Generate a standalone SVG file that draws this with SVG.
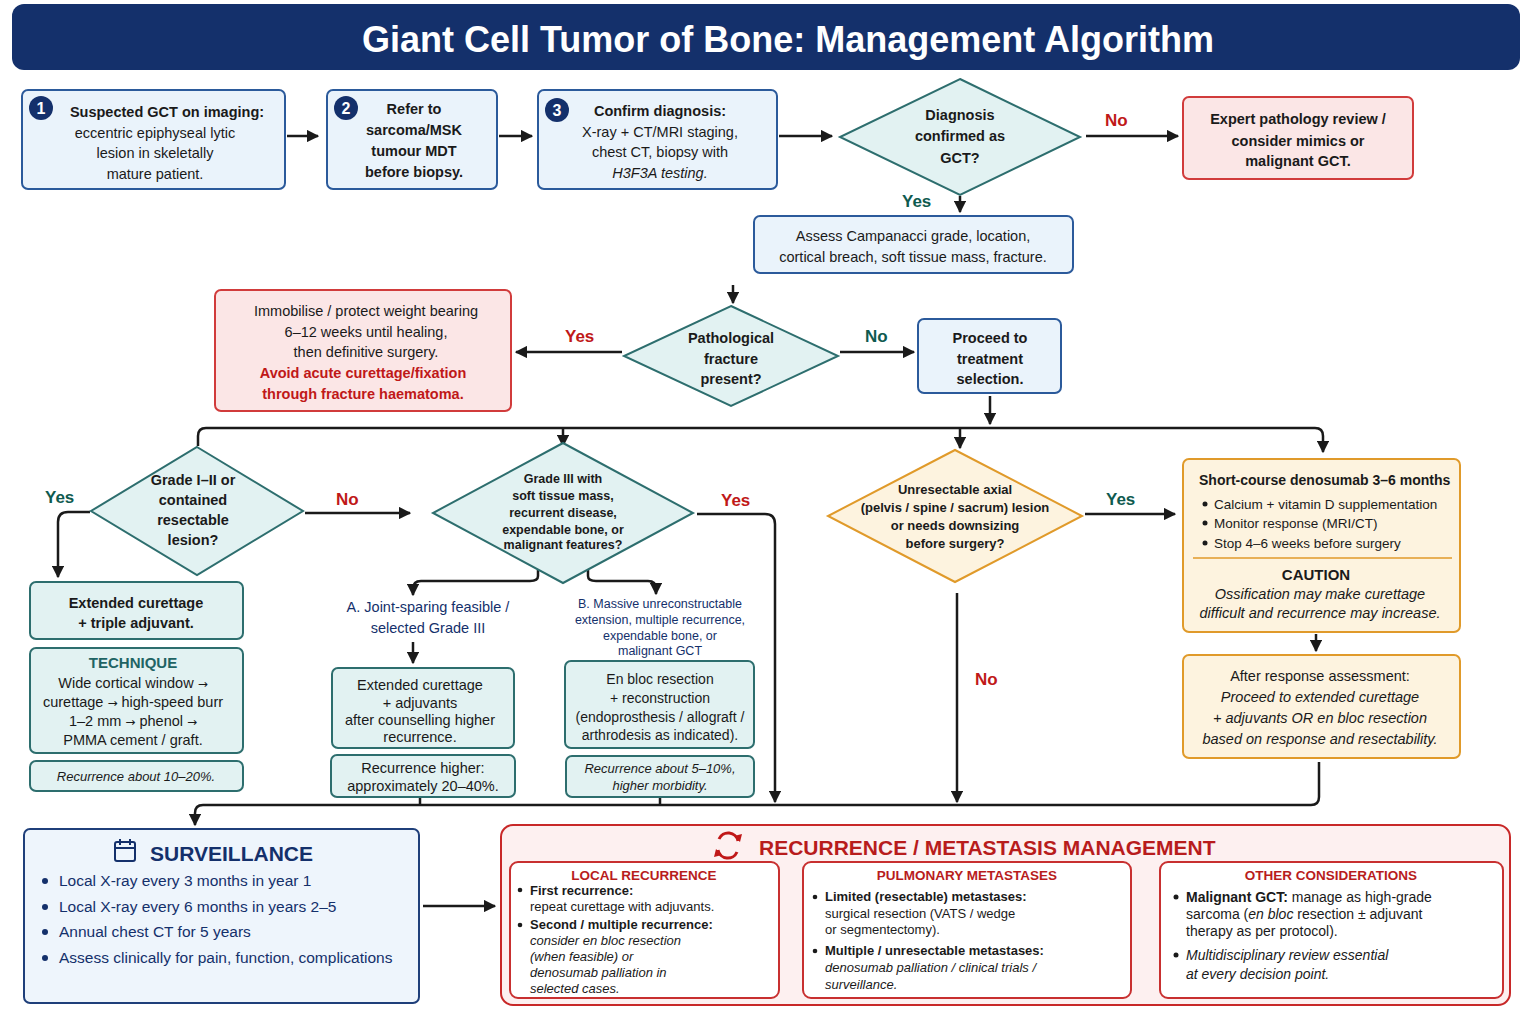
<svg xmlns="http://www.w3.org/2000/svg" width="1536" height="1024" viewBox="0 0 1536 1024">
<defs>
<marker id="ah" viewBox="0 0 10 10" refX="9" refY="5" markerWidth="5" markerHeight="5" orient="auto"><path d="M0,0 L10,5 L0,10 z" fill="#1a1a1a"/></marker>
<style>
text{font-family:"Liberation Sans",Arial,sans-serif;fill:#1a1a1a}
.ar{font-family:"DejaVu Sans",sans-serif;font-size:12px}
.c{text-anchor:middle}
.b{font-weight:bold}
.i{font-style:italic}
.t14{font-size:14.5px}
.t13{font-size:13px}
.blue{fill:#eaf3fb;stroke:#2b5a9b;stroke-width:2}
.red{fill:#fbe6e6;stroke:#d13b3b;stroke-width:2}
.teal{fill:#e2f2f2;stroke:#2d6e6e;stroke-width:2}
.org{fill:#fdf3df;stroke:#e09a2a;stroke-width:2}
.rw{fill:#fff;stroke:#c83030;stroke-width:2}
.ln{fill:none;stroke:#1a1a1a;stroke-width:2.5}
.ly{fill:#0f5a4f;font-weight:bold;font-size:17px}
.lr{fill:#c01818;font-weight:bold;font-size:17px}
.num{fill:#14306b}
.nav{fill:#14306b}
.rh{fill:#b81c1c;font-weight:bold;font-size:13.5px;text-anchor:middle}
</style>
</defs>
<rect x="0" y="0" width="1536" height="1024" fill="#fff"/>
<g id="title"><rect x="12" y="4" width="1508" height="66" rx="12" fill="#14306b"/><text x="788" y="52" class="c b" style="fill:#fff;font-size:36px">Giant Cell Tumor of Bone: Management Algorithm</text></g>

<g id="connectors">
<path class="ln" d="M287,136 H318" marker-end="url(#ah)"/>
<path class="ln" d="M499,136 H532" marker-end="url(#ah)"/>
<path class="ln" d="M779,136 H832" marker-end="url(#ah)"/>
<path class="ln" d="M1086,136 H1178" marker-end="url(#ah)"/>
<path class="ln" d="M960,196 V212" marker-end="url(#ah)"/>
<path class="ln" d="M733,285 V303" marker-end="url(#ah)"/>
<path class="ln" d="M622,352 H516" marker-end="url(#ah)"/>
<path class="ln" d="M840,352 H914" marker-end="url(#ah)"/>
<path class="ln" d="M990,396 V424" marker-end="url(#ah)"/>
<path class="ln" d="M198,446 V436 Q198,428 206,428 H1315 Q1323,428 1323,436 V452" marker-end="url(#ah)"/>
<path class="ln" d="M563,428 V446" marker-end="url(#ah)"/>
<path class="ln" d="M960,428 V448" marker-end="url(#ah)"/>
<path class="ln" d="M90,512 H68 Q58,512 58,522 V577" marker-end="url(#ah)"/>
<path class="ln" d="M305,513 H410" marker-end="url(#ah)"/>
<path class="ln" d="M697,514 H765 Q775,514 775,524 V802" marker-end="url(#ah)"/>
<path class="ln" d="M538,570 V576 Q538,581 530,581 H421 Q413,581 413,589 V595" marker-end="url(#ah)"/>
<path class="ln" d="M588,570 V576 Q588,581 596,581 H648 Q656,581 656,589 V594" marker-end="url(#ah)"/>
<path class="ln" d="M413,642 V663" marker-end="url(#ah)"/>
<path class="ln" d="M1085,514 H1175" marker-end="url(#ah)"/>
<path class="ln" d="M957,593 V802" marker-end="url(#ah)"/>
<path class="ln" d="M1316,634 V651" marker-end="url(#ah)"/>
<path class="ln" d="M1319,762 V797 Q1319,805 1311,805 H203 Q195,805 195,813 V825" marker-end="url(#ah)"/>
<path class="ln" d="M420,797 V805 M660,797 V805"/>
<path class="ln" d="M423,906 H495" marker-end="url(#ah)"/>
</g>

<g id="n1"><rect class="blue" x="22" y="90" width="263" height="99" rx="6"/><circle class="num" cx="41" cy="108" r="12"/><text x="41" y="114" class="c b" style="fill:#fff;font-size:16px">1</text>
<text class="c t14" x="167" y="117"><tspan class="b">Suspected GCT on imaging:</tspan><tspan x="155" y="138">eccentric epiphyseal lytic</tspan><tspan x="155" y="158">lesion in skeletally</tspan><tspan x="155" y="179">mature patient.</tspan></text></g>
<g id="n2"><rect class="blue" x="327" y="90" width="170" height="99" rx="6"/><circle class="num" cx="346" cy="108" r="12"/><text x="346" y="114" class="c b" style="fill:#fff;font-size:16px">2</text>
<text class="c b t14" x="414" y="114">Refer to<tspan x="414" y="135">sarcoma/MSK</tspan><tspan x="414" y="156">tumour MDT</tspan><tspan x="414" y="177">before biopsy.</tspan></text></g>
<g id="n3"><rect class="blue" x="538" y="90" width="239" height="99" rx="6"/><circle class="num" cx="557" cy="110" r="12"/><text x="557" y="116" class="c b" style="fill:#fff;font-size:16px">3</text>
<text class="c t14" x="660" y="116"><tspan class="b">Confirm diagnosis:</tspan><tspan x="660" y="137">X-ray + CT/MRI staging,</tspan><tspan x="660" y="157">chest CT, biopsy with</tspan><tspan x="660" y="178" class="i">H3F3A testing.</tspan></text></g>
<g id="d1"><polygon class="teal" points="960,79 1080,137 960,195 840,137"/><text class="c b t14" x="960" y="120">Diagnosis<tspan x="960" y="141">confirmed as</tspan><tspan x="960" y="163">GCT?</tspan></text>
<text class="lr" x="1105" y="126">No</text><text class="ly" x="902" y="207">Yes</text></g>
<g id="n4"><rect class="red" x="1183" y="97" width="230" height="82" rx="6"/><text class="c b t14" x="1298" y="124">Expert pathology review /<tspan x="1298" y="146">consider mimics or</tspan><tspan x="1298" y="166">malignant GCT.</tspan></text></g>
<g id="n5"><rect class="blue" x="754" y="216" width="319" height="57" rx="6"/><text class="c t14" x="913" y="241">Assess Campanacci grade, location,<tspan x="913" y="262">cortical breach, soft tissue mass, fracture.</tspan></text></g>
<g id="d2"><polygon class="teal" points="731,306 838,356 731,406 624,356"/><text class="c b t14" x="731" y="343">Pathological<tspan x="731" y="364">fracture</tspan><tspan x="731" y="384">present?</tspan></text>
<text class="lr" x="565" y="342">Yes</text><text class="ly" x="865" y="342">No</text></g>
<g id="n6"><rect class="red" x="215" y="290" width="296" height="121" rx="6"/><text class="c t14" x="366" y="316">Immobilise / protect weight bearing<tspan x="366" y="337">6–12 weeks until healing,</tspan><tspan x="366" y="357">then definitive surgery.</tspan><tspan x="363" y="378" class="b" style="fill:#c01818">Avoid acute curettage/fixation</tspan><tspan x="363" y="399" class="b" style="fill:#c01818">through fracture haematoma.</tspan></text></g>
<g id="n7"><rect class="blue" x="918" y="319" width="143" height="74" rx="6"/><text class="c b t14" x="990" y="343">Proceed to<tspan x="990" y="364">treatment</tspan><tspan x="990" y="384">selection.</tspan></text></g>

<g id="d3"><polygon class="teal" points="197,447 303,511 197,575 91,511"/><text class="c b t14" x="193" y="485">Grade I–II or<tspan x="193" y="505">contained</tspan><tspan x="193" y="525">resectable</tspan><tspan x="193" y="545">lesion?</tspan></text>
<text class="ly" x="45" y="503">Yes</text><text class="lr" x="336" y="505">No</text></g>
<g id="d4"><polygon class="teal" points="563,443 693,513 563,583 433,513"/><text class="c b" style="font-size:12.5px" x="563" y="483">Grade III with<tspan x="563" y="500">soft tissue mass,</tspan><tspan x="563" y="517">recurrent disease,</tspan><tspan x="563" y="534">expendable bone, or</tspan><tspan x="563" y="549">malignant features?</tspan></text>
<text class="lr" x="721" y="506">Yes</text></g>
<g id="n8"><rect class="teal" x="30" y="582" width="213" height="57" rx="6"/><text class="c b t14" x="136" y="608">Extended curettage<tspan x="136" y="628">+ triple adjuvant.</tspan></text></g>
<g id="n9"><rect class="teal" x="30" y="648" width="213" height="105" rx="6"/><text class="c b" style="fill:#1f6464;font-size:15px" x="133" y="668">TECHNIQUE</text><text class="c t14" x="133" y="688">Wide cortical window <tspan class="ar">→</tspan><tspan x="133" y="707">curettage <tspan class="ar">→</tspan> high-speed burr</tspan><tspan x="133" y="726">1–2 mm <tspan class="ar">→</tspan> phenol <tspan class="ar">→</tspan></tspan><tspan x="133" y="745">PMMA cement / graft.</tspan></text></g>
<g id="n10"><rect class="teal" x="30" y="761" width="213" height="30" rx="6"/><text class="c i t13" x="136" y="781">Recurrence about 10–20%.</text></g>
<g id="la"><text class="c nav t14" x="428" y="612">A. Joint-sparing feasible /<tspan x="428" y="633">selected Grade III</tspan></text></g>
<g id="n11"><rect class="teal" x="332" y="668" width="182" height="80" rx="6"/><text class="c t14" x="420" y="690">Extended curettage<tspan x="420" y="708">+ adjuvants</tspan><tspan x="420" y="725">after counselling higher</tspan><tspan x="420" y="742">recurrence.</tspan></text></g>
<g id="n12"><rect class="teal" x="331" y="755" width="184" height="42" rx="6"/><text class="c t14" x="423" y="773">Recurrence higher:<tspan x="423" y="791">approximately 20–40%.</tspan></text></g>
<g id="lb"><text class="c nav" style="font-size:12.5px" x="660" y="608">B. Massive unreconstructable<tspan x="660" y="624">extension, multiple recurrence,</tspan><tspan x="660" y="640">expendable bone, or</tspan><tspan x="660" y="655">malignant GCT</tspan></text></g>
<g id="n13"><rect class="teal" x="565" y="661" width="189" height="87" rx="6"/><text class="c" style="font-size:14px" x="660" y="684">En bloc resection<tspan x="660" y="703">+ reconstruction</tspan><tspan x="660" y="722">(endoprosthesis / allograft /</tspan><tspan x="660" y="740">arthrodesis as indicated).</tspan></text></g>
<g id="n14"><rect class="teal" x="566" y="756" width="188" height="41" rx="6"/><text class="c i t13" x="660" y="773">Recurrence about 5–10%,<tspan x="660" y="790">higher morbidity.</tspan></text></g>

<g id="d5"><polygon class="org" points="955,450 1082,516 955,582 828,516"/><text class="c t13" x="955" y="494" style="font-weight:600">Unresectable axial<tspan x="955" y="512">(pelvis / spine / sacrum) lesion</tspan><tspan x="955" y="530">or needs downsizing</tspan><tspan x="955" y="548">before surgery?</tspan></text>
<text class="ly" x="1106" y="505">Yes</text><text class="lr" x="975" y="685">No</text></g>
<g id="n15"><rect class="org" x="1183" y="459" width="277" height="173" rx="6"/><text class="b" style="font-size:14px" x="1199" y="485">Short-course denosumab 3–6 months</text>
<g style="font-size:13.5px"><circle cx="1205" cy="504" r="2.5" fill="#1a1a1a"/><text x="1214" y="509">Calcium + vitamin D supplementation</text><circle cx="1205" cy="523" r="2.5" fill="#1a1a1a"/><text x="1214" y="528">Monitor response (MRI/CT)</text><circle cx="1205" cy="543" r="2.5" fill="#1a1a1a"/><text x="1214" y="548">Stop 4–6 weeks before surgery</text></g>
<line x1="1193" y1="558" x2="1452" y2="558" stroke="#e09a2a" stroke-width="1.5"/>
<text class="c b" style="font-size:15px" x="1316" y="580">CAUTION</text><text class="c i t14" x="1320" y="599">Ossification may make curettage<tspan x="1320" y="618">difficult and recurrence may increase.</tspan></text></g>
<g id="n16"><rect class="org" x="1183" y="655" width="277" height="103" rx="6"/><text class="c t14" x="1320" y="681">After response assessment:<tspan x="1320" y="702" class="i">Proceed to extended curettage</tspan><tspan x="1320" y="723" class="i">+ adjuvants OR en bloc resection</tspan><tspan x="1320" y="744" class="i">based on response and resectability.</tspan></text></g>

<g id="surveillance"><rect x="24" y="829" width="395" height="174" rx="6" fill="#eef5fc" stroke="#1f3f7a" stroke-width="2"/>
<g fill="none" stroke="#14306b" stroke-width="2"><rect x="115" y="842" width="20" height="19" rx="2"/><line x1="115" y1="848" x2="135" y2="848"/><line x1="120" y1="839" x2="120" y2="845"/><line x1="130" y1="839" x2="130" y2="845"/></g>
<text class="b nav" style="font-size:21px" x="150" y="861">SURVEILLANCE</text>
<g style="font-size:15.5px"><circle cx="45" cy="881" r="3" fill="#14306b"/><text class="nav" x="59" y="886">Local X-ray every 3 months in year 1</text>
<circle cx="45" cy="907" r="3" fill="#14306b"/><text class="nav" x="59" y="912">Local X-ray every 6 months in years 2–5</text>
<circle cx="45" cy="932" r="3" fill="#14306b"/><text class="nav" x="59" y="937">Annual chest CT for 5 years</text>
<circle cx="45" cy="958" r="3" fill="#14306b"/><text class="nav" x="59" y="963">Assess clinically for pain, function, complications</text></g></g>

<g id="recurrence"><rect x="501" y="825" width="1009" height="180" rx="12" fill="#fdf0f0" stroke="#c82828" stroke-width="2"/>
<path d="M738,841 A10,10 0 0 0 719,839 M718,850 A10,10 0 0 0 737,852" fill="none" stroke="#c01818" stroke-width="3"/><path d="M734,836 L740,842 L742,834 z M722,855 L716,849 L714,857 z" fill="#c01818"/>
<text class="b" style="fill:#b81c1c;font-size:21px" x="759" y="855">RECURRENCE / METASTASIS MANAGEMENT</text>
<rect class="rw" x="510" y="862" width="269" height="136" rx="8"/><rect class="rw" x="803" y="862" width="328" height="136" rx="8"/><rect class="rw" x="1160" y="862" width="343" height="136" rx="8"/>
<text class="rh" x="644" y="880">LOCAL RECURRENCE</text><text class="rh" x="967" y="880">PULMONARY METASTASES</text><text class="rh" x="1331" y="880">OTHER CONSIDERATIONS</text>
<g class="t13"><circle cx="520" cy="890" r="2.3" fill="#1a1a1a"/><text x="530" y="895" class="b t13">First recurrence:</text><text x="530" y="911" class="t13">repeat curettage with adjuvants.</text>
<circle cx="520" cy="925" r="2.3" fill="#1a1a1a"/><text x="530" y="929" class="b t13">Second / multiple recurrence:</text><text x="530" y="945" class="i t13">consider en bloc resection<tspan x="530" y="961">(when feasible) or</tspan><tspan x="530" y="977">denosumab palliation in</tspan><tspan x="530" y="993">selected cases.</tspan></text>
<circle cx="815" cy="897" r="2.3" fill="#1a1a1a"/><text x="825" y="901" class="b t13">Limited (resectable) metastases:</text><text x="825" y="918" class="t13">surgical resection (VATS / wedge<tspan x="825" y="934">or segmentectomy).</tspan></text>
<circle cx="815" cy="951" r="2.3" fill="#1a1a1a"/><text x="825" y="955" class="b t13">Multiple / unresectable metastases:</text><text x="825" y="972" class="i t13">denosumab palliation / clinical trials /<tspan x="825" y="989">surveillance.</tspan></text></g>
<g style="font-size:14px"><circle cx="1176" cy="897" r="2.5" fill="#1a1a1a"/><text x="1186" y="902" style="font-size:14px"><tspan class="b">Malignant GCT:</tspan> manage as high-grade</text><text x="1186" y="919" style="font-size:14px">sarcoma (<tspan class="i">en bloc</tspan> resection ± adjuvant</text><text x="1186" y="936" style="font-size:14px">therapy as per protocol).</text>
<circle cx="1176" cy="955" r="2.5" fill="#1a1a1a"/><text x="1186" y="960" class="i" style="font-size:14px">Multidisciplinary review essential<tspan x="1186" y="979">at every decision point.</tspan></text></g></g>
</svg>
